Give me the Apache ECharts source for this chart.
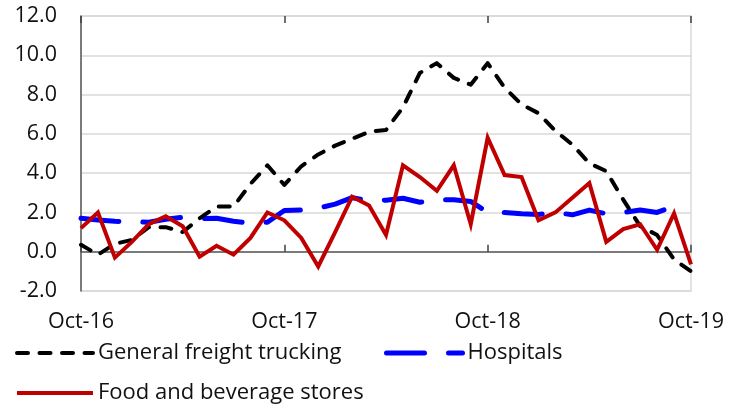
<!DOCTYPE html>
<html>
<head>
<meta charset="utf-8">
<script src="https://cdn.jsdelivr.net/npm/echarts@6/dist/echarts.min.js"></script>
<style>
  html, body { margin: 0; padding: 0; background: #ffffff; }
  #chart { width: 737px; height: 404px; }
</style>
</head>
<body>
<div id="chart"></div>
<script>
// Monthly months Oct-16 .. Oct-19
const monthNames = ['Jan', 'Feb', 'Mar', 'Apr', 'May', 'Jun', 'Jul', 'Aug', 'Sep', 'Oct', 'Nov', 'Dec'];
const categories = [];
for (let k = 0; k < 37; k++) {
  const m = (9 + k) % 12;
  const y = 16 + Math.floor((9 + k) / 12);
  categories.push(monthNames[m] + '-' + y);
}

const freightTrucking = [0.35, -0.15, 0.4, 0.6, 1.25, 1.25, 1.0, 1.7, 2.3, 2.3, 3.45, 4.4, 3.4,
  4.35, 4.95, 5.4, 5.75, 6.1, 6.2, 7.35, 9.1, 9.6, 8.85, 8.5, 9.6,
  8.35, 7.5, 7.05, 6.15, 5.45, 4.5, 4.1, 2.65, 1.3, 0.85, -0.4, -1.0];

const hospitals = [1.7, 1.62, 1.55, 1.52, 1.5, 1.65, 1.75, 1.68, 1.7, 1.55, 1.45, 1.5, 2.1,
  2.12, 2.22, 2.42, 2.75, 2.6, 2.62, 2.72, 2.52, 2.64, 2.64, 2.56, 2.0,
  2.0, 1.93, 1.9, 2.0, 1.88, 2.12, 1.93, 2.0, 2.12, 2.0, 2.33, null];

const foodBeverage = [1.2, 2.0, -0.3, 0.5, 1.4, 1.8, 1.3, -0.25, 0.3, -0.15, 0.7, 2.0, 1.6,
  0.7, -0.75, 1.0, 2.8, 2.35, 0.85, 4.4, 3.8, 3.1, 4.4, 1.4, 5.8,
  3.9, 3.8, 1.6, 2.0, 2.75, 3.5, 0.5, 1.15, 1.4, 0.1, 1.95, -0.65];

const yTicks = { min: -2, max: 12, step: 2 };

const FONT = '"Open Sans", "Noto Sans", sans-serif';
const TEXT = '#111111';
const tickEvery12 = (i) => i % 12 === 0;

// line looks shared by the plotted series and their legend samples
const truckingLine = { color: '#000000', width: 4, type: [11, 11.5], cap: 'round', join: 'round' };
const hospitalLine = { color: '#0000ff', width: 5, type: [38, 24], cap: 'round', join: 'round' };
const foodLine = { color: '#c00000', width: 4, type: 'solid', cap: 'butt', join: 'miter' };

const chart = echarts.init(document.getElementById('chart'), null, { renderer: 'canvas' });

const legendText = { fontFamily: FONT, fontSize: 22, color: TEXT };
function legendFor(name, left, top, line) {
  return {
    data: [name], left: left, top: top,
    itemWidth: 76, itemHeight: 20, itemGap: 0,
    textStyle: legendText,
    itemStyle: { opacity: 0 },
    lineStyle: Object.assign({}, line, { inactiveColor: '#ccc' })
  };
}

chart.setOption({
  animation: false,
  backgroundColor: '#ffffff',
  grid: {
    left: 81, right: 46, top: 16, bottom: 113,
    show: true, borderColor: '#d9d9d9', borderWidth: 1.5
  },
  legend: [
    legendFor('General freight trucking', 10, 337, truckingLine),
    legendFor('Hospitals', 379, 337, hospitalLine),
    legendFor('Food and beverage stores', 10, 377, foodLine)
  ],
  xAxis: [
    {
      // bottom axis carrying the date labels
      type: 'category', data: categories, boundaryGap: false, position: 'bottom',
      axisLine: { show: false, onZero: false },
      axisTick: { show: false },
      axisLabel: {
        interval: tickEvery12, margin: 20,
        fontFamily: FONT, fontSize: 21.5, color: TEXT
      }
    },
    {
      // zero line with ticks pointing down
      type: 'category', data: categories, boundaryGap: false,
      axisLine: { show: true, onZero: true, lineStyle: { color: '#595959', width: 1.5 } },
      axisTick: { show: true, interval: tickEvery12, length: 7, inside: false, lineStyle: { color: '#404040', width: 1.5 } },
      axisLabel: { show: false }
    },
    {
      // zero line with ticks pointing up
      type: 'category', data: categories, boundaryGap: false,
      axisLine: { show: false, onZero: true },
      axisTick: { show: true, interval: tickEvery12, length: 7, inside: true, lineStyle: { color: '#404040', width: 1.5 } },
      axisLabel: { show: false }
    }
  ],
  yAxis: {
    type: 'value', min: yTicks.min, max: yTicks.max, interval: yTicks.step,
    axisLine: { show: true, onZero: false, lineStyle: { color: '#595959', width: 1.5 } },
    axisTick: { show: false },
    splitLine: { show: true, lineStyle: { color: '#d9d9d9', width: 1.5 } },
    axisLabel: {
      margin: 24, fontFamily: FONT, fontSize: 21.5, color: TEXT,
      formatter: (v) => v.toFixed(1)
    }
  },
  series: [
    {
      name: 'General freight trucking', type: 'line', data: freightTrucking,
      xAxisIndex: 0, showSymbol: false, symbol: 'none', z: 3,
      lineStyle: truckingLine, itemStyle: { color: '#000000' }
    },
    {
      name: 'Hospitals', type: 'line', data: hospitals,
      xAxisIndex: 0, showSymbol: false, symbol: 'none', z: 2,
      lineStyle: hospitalLine, itemStyle: { color: '#0000ff' }
    },
    {
      name: 'Food and beverage stores', type: 'line', data: foodBeverage,
      xAxisIndex: 0, showSymbol: false, symbol: 'none', z: 4,
      lineStyle: foodLine, itemStyle: { color: '#c00000' }
    }
  ]
});
</script>
</body>
</html>
